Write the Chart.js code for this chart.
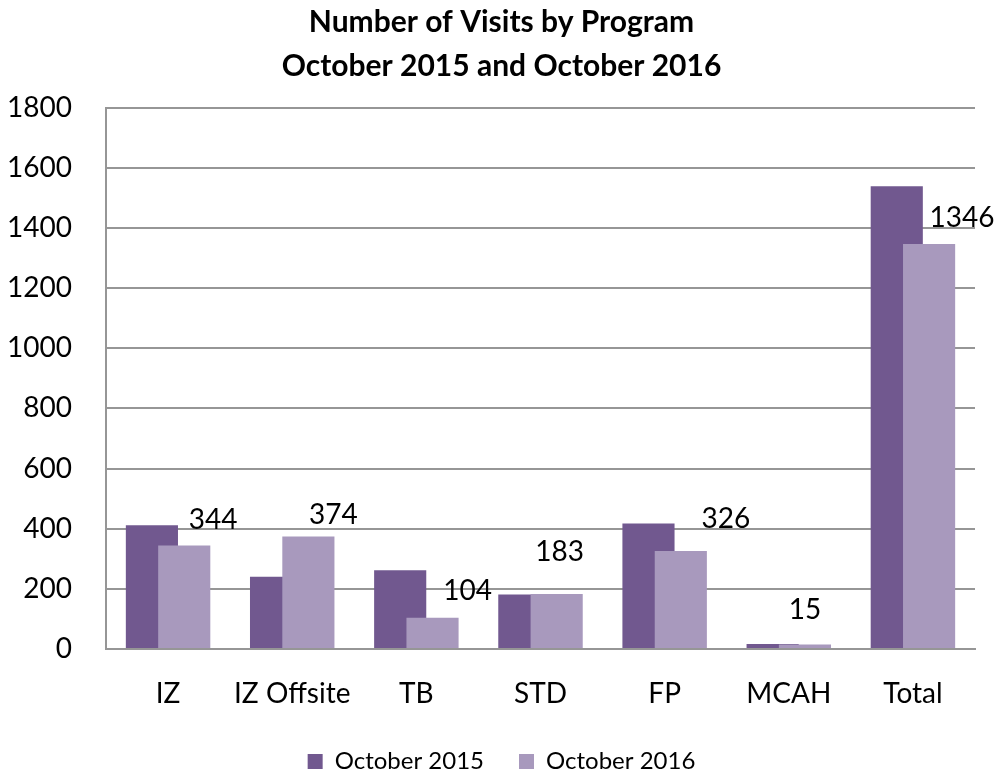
<!DOCTYPE html>
<html>
<head>
<meta charset="utf-8">
<title>Number of Visits by Program</title>
<script src="https://cdn.jsdelivr.net/npm/chart.js@4/dist/chart.umd.min.js"></script>
<style>
  html, body { margin: 0; padding: 0; background: #ffffff; }
  #wrap { width: 997px; height: 774px; }
</style>
</head>
<body>
<div id="wrap"><canvas id="chart" width="997" height="774"></canvas></div>
<script>
// Programs along the x axis
const programs = ['IZ', 'IZ Offsite', 'TB', 'STD', 'FP', 'MCAH', 'Total'];

// Visits per program
const visitsOct2015 = [411, 240, 262, 181, 417, 17, 1538];
const visitsOct2016 = [344, 374, 104, 183, 326, 15, 1346];

// Y axis ticks
const yTicks = [0, 200, 400, 600, 800, 1000, 1200, 1400, 1600, 1800];

// Placement of each value label relative to its bar top: [dx, gap] in px
const labelNudge = [[29, 17], [25, 12], [35, 18], [3, 33], [45, 23], [0, 25], [33, 17]];

const FONT = 'Lato, "Open Sans", sans-serif';
const GRID = '#969696';

// Lets the two series overlap like clustered bars with overlap
const overlapBars = {
  id: 'overlapBars',
  afterDatasetsUpdate(chart, args, opts) {
    chart.data.datasets.forEach((ds, i) => {
      const meta = chart.getDatasetMeta(i);
      const dir = i === 0 ? -1 : 1;
      meta.data.forEach(el => {
        el.x = el.x + dir * el.width * opts.shift;
      });
    });
  }
};

// Value labels above the October 2016 bars
const valueLabels = {
  id: 'valueLabels',
  afterDatasetsDraw(chart) {
    const ctx = chart.ctx;
    const meta = chart.getDatasetMeta(1);
    ctx.save();
    ctx.font = '28px ' + FONT;
    ctx.fillStyle = '#000';
    ctx.textAlign = 'center';
    ctx.textBaseline = 'alphabetic';
    meta.data.forEach((el, i) => {
      const [dx, gap] = labelNudge[i];
      ctx.fillText(String(visitsOct2016[i]), el.x + dx, el.y - gap);
    });
    ctx.restore();
  }
};

new Chart(document.getElementById('chart'), {
  type: 'bar',
  data: {
    labels: programs,
    datasets: [
      {
        label: 'October 2015',
        data: visitsOct2015,
        backgroundColor: '#71588f',
        grouped: false,
        barPercentage: 0.42,
        categoryPercentage: 1.0,
        order: 1
      },
      {
        label: 'October 2016',
        data: visitsOct2016,
        backgroundColor: '#a899bd',
        grouped: false,
        barPercentage: 0.42,
        categoryPercentage: 1.0,
        order: 0
      }
    ]
  },
  options: {
    responsive: false,
    animation: false,
    events: [],
    layout: { padding: { left: 6, right: 0, top: 0, bottom: -9.5 } },
    scales: {
      x: {
        offset: true,
        grid: { display: false, drawTicks: false },
        border: { display: true, color: GRID, width: 2 },
        ticks: { color: '#000', font: { family: FONT, size: 28 }, padding: 28, maxRotation: 0 },
        afterFit(scale) { scale.height = 65.5; }
      },
      y: {
        min: 0,
        max: 1800,
        afterBuildTicks(scale) { scale.ticks = yTicks.map(v => ({ value: v })); },
        grid: { color: GRID, lineWidth: 2, drawTicks: false },
        border: { display: true, color: GRID, width: 2 },
        ticks: {
          color: '#000',
          font: { family: FONT, size: 28 },
          padding: 34,
          callback: (v) => String(v)
        },
        afterFit(scale) { scale.width = 100; }
      },
      // empty right-hand margin beside the plot
      yRight: {
        type: 'linear',
        position: 'right',
        grid: { display: false, drawTicks: false },
        border: { display: false },
        ticks: { display: false },
        afterFit(scale) { scale.width = 22; }
      }
    },
    plugins: {
      overlapBars: { shift: 0.31 },
      tooltip: { enabled: false },
      title: {
        display: true,
        text: ['Number of Visits by Program', 'October 2015 and October 2016'],
        color: '#000',
        font: { family: FONT, size: 30, weight: 'bold', lineHeight: 1.4667 },
        padding: { top: 0, bottom: 19.5 }
      },
      legend: {
        position: 'bottom',
        labels: {
          color: '#000',
          font: { family: FONT, size: 24 },
          boxWidth: 15,
          boxHeight: 15,
          padding: 35,
          sort: (a, b) => a.datasetIndex - b.datasetIndex
        }
      }
    }
  },
  plugins: [overlapBars, valueLabels]
});
</script>
</body>
</html>
